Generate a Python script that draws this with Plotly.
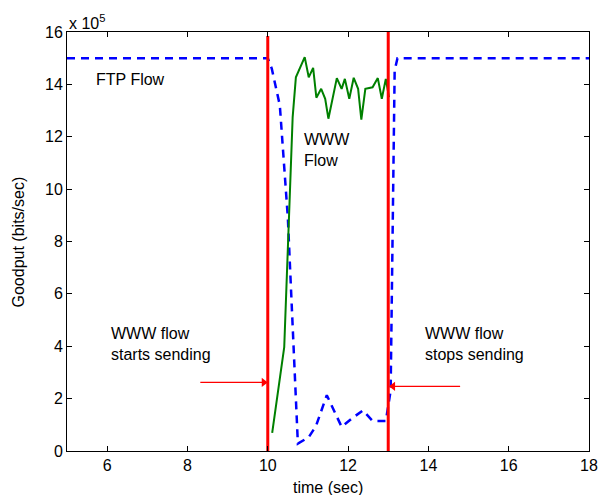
import plotly.graph_objects as go

# FTP flow goodput (x1e5 bits/sec)
ftp_t = [5.0, 10.0, 10.1, 10.3, 10.5, 10.75, 11.02, 11.2, 11.47, 11.84, 12.1, 12.37, 12.61, 12.94, 13.06, 13.1, 13.16, 13.23, 18.0]
ftp_v = [15.0, 15.0, 14.6, 13.2, 8.9, 0.28, 0.53, 0.95, 2.13, 0.92, 1.25, 1.55, 1.15, 1.15, 2.3, 8.0, 14.53, 15.0, 15.0]

# WWW flow goodput (x1e5 bits/sec)
www_t = [10.11, 10.41, 10.62, 10.70, 10.92, 11.02, 11.13, 11.21, 11.33, 11.43, 11.51, 11.72, 11.84, 11.92, 12.03,
         12.14, 12.25, 12.33, 12.43, 12.61, 12.74, 12.84, 12.94, 13.02]
www_v = [0.69, 3.97, 12.75, 14.27, 15.04, 14.27, 14.63, 13.49, 13.83, 13.45, 12.69, 14.24, 13.83, 14.21, 13.45,
         14.25, 13.83, 12.65, 13.83, 13.89, 14.24, 13.45, 14.21, 13.51]

# Start / stop markers
marker_t = [10.0, 13.0]
marker_top = [15.85, 16.0]

# Pointer arrows (tail -> head)
arrow_tail_t = [8.32, 14.79]
arrow_head_t = [9.9, 13.12]
arrow_v = [2.62, 2.47]
arrow_symbols = ["triangle-right", "triangle-left"]

x_ticks = [6, 8, 10, 12, 14, 16, 18]
y_ticks = [0, 2, 4, 6, 8, 10, 12, 14, 16]

FONT = "Liberation Sans, Arial, sans-serif"

fig = go.Figure()
fig.add_trace(go.Scatter(x=ftp_t, y=ftp_v, mode="lines",
                         line=dict(color="#0000ff", width=2.5, dash="8px,6px"),
                         showlegend=False, hoverinfo="skip"))
fig.add_trace(go.Scatter(x=www_t, y=www_v, mode="lines",
                         line=dict(color="#008000", width=2),
                         showlegend=False, hoverinfo="skip"))
for t, top in zip(marker_t, marker_top):
    fig.add_trace(go.Scatter(x=[t, t], y=[0, top], mode="lines",
                             line=dict(color="#ff0000", width=3),
                             showlegend=False, hoverinfo="skip"))
for t0, t1, v in zip(arrow_tail_t, arrow_head_t, arrow_v):
    fig.add_trace(go.Scatter(x=[t0, t1], y=[v, v], mode="lines",
                             line=dict(color="#ff0000", width=1.2),
                             showlegend=False, hoverinfo="skip"))
fig.add_trace(go.Scatter(x=arrow_head_t, y=arrow_v, mode="markers",
                         marker=dict(symbol=arrow_symbols, size=8, color="#ff0000", line=dict(width=0)),
                         showlegend=False, hoverinfo="skip"))

ann_font = dict(family=FONT, size=16, color="black")
annotations = [
    dict(x=5.68, y=14.2, xref="x", yref="y", text="FTP Flow", showarrow=False,
         xanchor="left", yanchor="middle", font=ann_font),
    dict(x=10.84, y=11.5, xref="x", yref="y", text="WWW<br>Flow", showarrow=False,
         xanchor="left", yanchor="middle", align="left", font=ann_font),
    dict(x=6.05, y=4.1, xref="x", yref="y", text="WWW flow<br>starts sending", showarrow=False,
         xanchor="left", yanchor="middle", align="left", font=ann_font),
    dict(x=13.87, y=4.1, xref="x", yref="y", text="WWW flow<br>stops sending", showarrow=False,
         xanchor="left", yanchor="middle", align="left", font=ann_font),
    dict(x=0, y=1, xref="paper", yref="paper", text="x 10<sup>5</sup>", showarrow=False,
         xanchor="left", yanchor="bottom", yshift=-2, font=ann_font),
    dict(x=0.5, y=-0.088, xref="paper", yref="paper", text="time (sec)", showarrow=False,
         xanchor="center", yanchor="middle", font=ann_font),
    dict(x=-0.092, y=0.5, xref="paper", yref="paper", text="Goodput (bits/sec)", showarrow=False,
         textangle=-90, xanchor="center", yanchor="middle", font=ann_font),
]

axis_common = dict(showline=True, linecolor="black", linewidth=1, mirror="ticks",
                   ticks="inside", ticklen=5, tickcolor="black", showgrid=False, zeroline=False,
                   tickfont=dict(family=FONT, size=16, color="black"))

fig.update_layout(
    width=608, height=495,
    margin=dict(l=67, r=10, t=32, b=44),
    paper_bgcolor="white", plot_bgcolor="white",
    xaxis=dict(range=[5, 18], tickvals=x_ticks, ticktext=[str(v) for v in x_ticks], **axis_common),
    yaxis=dict(range=[0, 16], tickvals=y_ticks, ticktext=[str(v) for v in y_ticks], **axis_common),
    annotations=annotations,
    showlegend=False,
)

fig.write_html("out.html")
